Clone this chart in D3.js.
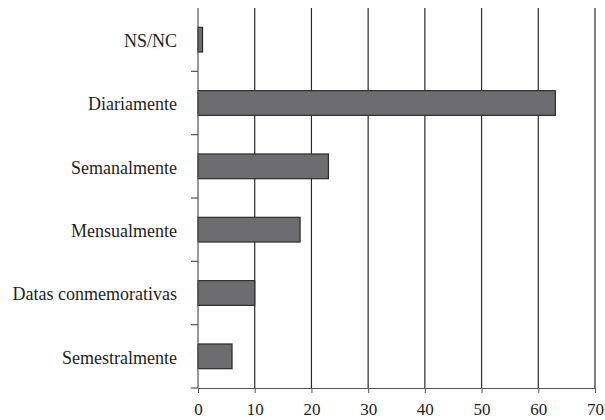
<!DOCTYPE html>
<html><head><meta charset="utf-8">
<script src="https://cdn.jsdelivr.net/npm/d3@7"></script>
<style>body{margin:0;background:#fff}svg{display:block}</style>
</head><body>
<svg id="c" width="605" height="420"></svg>
<script>
const categories = ["NS/NC","Diariamente","Semanalmente","Mensualmente","Datas conmemorativas","Semestralmente"];
const values = [0.8, 63, 23, 18, 10, 6];
const xTicks = [0,10,20,30,40,50,60,70];

const svg = d3.select("#c");
const m = {left:198, right:10, top:8, bottom:32};
const W = 605, H = 420;
const x = d3.scaleLinear().domain([0,70]).range([m.left, 595]);
const y = d3.scaleBand().domain(categories).range([m.top, H - m.bottom]).paddingInner(0.61).paddingOuter(0.305);
const font = "'Liberation Serif','Times New Roman',serif";

// gridlines
svg.append("g").selectAll("line").data(xTicks.filter(d=>d>0)).join("line")
  .attr("x1",d=>x(d)).attr("x2",d=>x(d)).attr("y1",m.top).attr("y2",H-m.bottom)
  .attr("stroke","#2a2a2a").attr("stroke-width",1.2);

// bars
svg.append("g").selectAll("rect").data(values).join("rect")
  .attr("x",x(0)).attr("y",(d,i)=>y(categories[i]))
  .attr("width",d=>x(d)-x(0)).attr("height",y.bandwidth())
  .attr("fill","#6d6d71").attr("stroke","#2b2b2b").attr("stroke-width",1.2);

// x axis
const xa = svg.append("g").attr("transform",`translate(0,${H-m.bottom})`)
  .call(d3.axisBottom(x).tickValues(xTicks).tickSize(5).tickSizeOuter(0).tickPadding(10));
xa.select(".domain").attr("stroke","#555").attr("stroke-width",1.2);
xa.selectAll(".tick line").attr("stroke","#555");
xa.selectAll("text").attr("font-family",font).attr("font-size",17).attr("fill","#1e1e1e");

// y axis line and ticks at band boundaries
svg.append("line").attr("x1",x(0)).attr("x2",x(0)).attr("y1",m.top).attr("y2",H-m.bottom)
  .attr("stroke","#555").attr("stroke-width",1.2);
const step = y.step();
const bounds = d3.range(1, categories.length+1).map(i => m.top + i*step);
svg.append("g").selectAll("line").data(bounds).join("line")
  .attr("x1",x(0)-7).attr("x2",x(0)).attr("y1",d=>d).attr("y2",d=>d)
  .attr("stroke","#555").attr("stroke-width",1.2);

// category labels
svg.append("g").selectAll("text").data(categories).join("text")
  .attr("x",x(0)-21).attr("y",d=>y(d)+y.bandwidth()/2).attr("dy","0.4em")
  .attr("text-anchor","end").attr("font-family",font).attr("font-size",18).attr("fill","#1e1e1e")
  .text(d=>d);
</script>
</body></html>
